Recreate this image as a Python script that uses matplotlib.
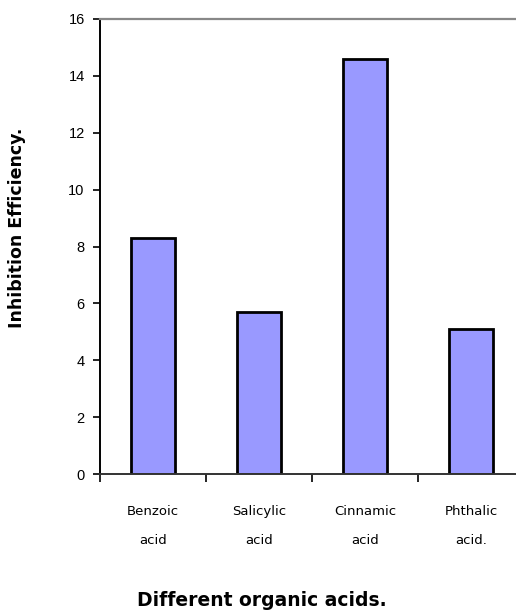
import matplotlib
matplotlib.use("Agg")
import matplotlib.pyplot as plt
import numpy as np

acids = ["Benzoic\nacid", "Salicylic\nacid", "Cinnamic\nacid", "Phthalic\nacid."]
efficiency = [8.3, 5.7, 14.6, 5.1]
y_ticks = [0, 2, 4, 6, 8, 10, 12, 14, 16]

plt.rcParams["font.family"] = ["Liberation Sans", "DejaVu Sans"]

W, H = 516, 615
fig = plt.figure(figsize=(W / 100, H / 100), dpi=100)
# plot area runs slightly past the right edge of the figure
ax = fig.add_axes([100 / W, (H - 474) / H, 424 / W, (474 - 19) / H])

x = np.arange(len(acids))
ax.bar(x, efficiency, width=0.42, color="#9999ff", edgecolor="black", linewidth=2.0)

ax.set_xlim(-0.5, len(acids) - 0.5)
ax.set_ylim(0, 16)
ax.set_yticks(y_ticks)
ax.tick_params(axis="y", direction="out", length=5, width=1.2, labelsize=10.5, pad=6)

# category ticks sit between bars, labels sit under each bar
ax.set_xticks(np.arange(len(acids) + 1) - 0.5)
ax.set_xticklabels([])
ax.tick_params(axis="x", direction="out", length=6, width=1.2)
for xi, name in zip(x, acids):
    ax.text(xi, -1.1, name, ha="center", va="top", fontsize=9.5,
            family="DejaVu Sans", linespacing=2.6, transform=ax.transData)

ax.spines["left"].set_linewidth(1.4)
ax.spines["bottom"].set_linewidth(1.4)
ax.spines["bottom"].set_color("#333333")
ax.spines["top"].set_color("#888888")
ax.spines["top"].set_linewidth(1.6)
ax.spines["right"].set_visible(False)

fig.text(17 / W, 1 - 228 / H, "Inhibition Efficiency.", rotation=90,
         ha="center", va="center", fontsize=12.5, fontweight="bold",
         family="DejaVu Sans")
fig.text(262 / W, 1 - 601 / H, "Different organic acids.", ha="center",
         va="center", fontsize=13.5, fontweight="bold", family="DejaVu Sans")

fig.savefig("out.png", dpi=100)
